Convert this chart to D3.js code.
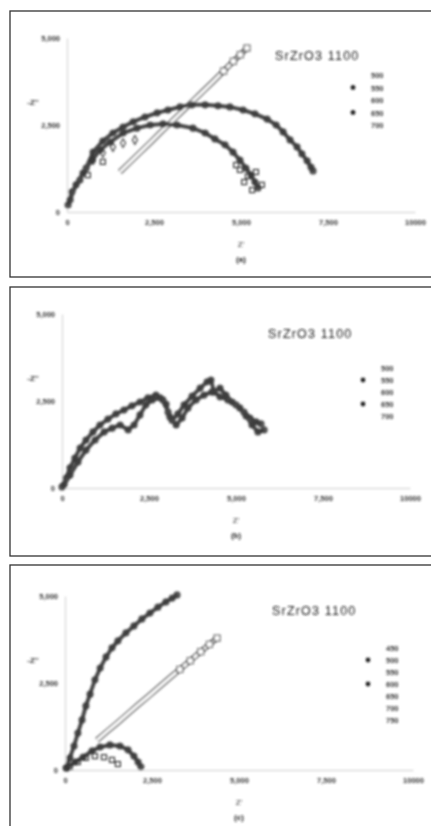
<!DOCTYPE html>
<html>
<head>
<meta charset="utf-8">
<script src="https://cdn.jsdelivr.net/npm/d3@7"></script>
<style>
  body { margin: 0; background: #fff; }
  text { font-family: "Liberation Sans", Arial, sans-serif; }
</style>
</head>
<body>
<div id="chart"></div>
<script>
// axis ticks shared by the three panels
var xTicks = [0, 2500, 5000, 7500, 10000];
var xTickLabels = ["0", "2,500", "5,000", "7,500", "10000"];
var yTicks = [0, 2500, 5000];
var yTickLabels = ["0", "2,500", "5,000"];
var panelTitle = "SrZrO3 1100";
var xLabel = "Z'";
var yLabel = "-Z''";

// legends
var legendA = ["500", "550", "600", "650", "700"];
var legendB = ["500", "550", "600", "650", "700"];
var legendC = ["450", "500", "550", "600", "650", "700", "750"];

// panel (a) series
var a1Re = [30, 140, 370, 550, 750, 1030, 1320, 1610, 1900, 2240, 2590, 2900, 3250, 3590, 3970, 4340, 4680, 5060, 5400, 5750, 6010, 6210, 6410, 6610, 6750, 6900, 7010, 7070];
var a1Im = [200, 580, 920, 1260, 1720, 2040, 2270, 2440, 2590, 2730, 2850, 2930, 3020, 3080, 3080, 3050, 3020, 2930, 2820, 2670, 2500, 2300, 2070, 1870, 1670, 1470, 1290, 1180];
var a2Re = [90, 260, 460, 720, 950, 1240, 1610, 2010, 2390, 2760, 3160, 3620, 3970, 4250, 4540, 4770, 4970, 5140, 5290, 5400, 5490];
var a2Im = [350, 780, 1120, 1490, 1780, 2010, 2270, 2410, 2500, 2530, 2500, 2410, 2270, 2100, 1930, 1720, 1490, 1260, 1060, 860, 690];
var a3Re = [4970, 5200, 5430, 5090, 5600, 5320, 4860, 1030, 600];
var a3Im = [1210, 1030, 1150, 860, 780, 630, 1350, 1440, 1060];
var a4Re = [1520, 1820, 2110, 2400, 2700, 3000, 3300, 3600, 3900, 4200, 4500, 4780, 4980, 5170];
var a4Im = [1150, 1440, 1720, 2000, 2300, 2590, 2880, 3170, 3460, 3750, 4050, 4330, 4520, 4710];
var a5Re = [750, 1030, 1320, 1610, 1950];
var a5Im = [1490, 1700, 1870, 1980, 2070];

// panel (b) series
var b1Re = [0, 120, 230, 370, 520, 690, 890, 1090, 1320, 1550, 1780, 2010, 2240, 2470, 2700, 2900, 3050, 3160, 3330, 3510, 3740, 3970, 4170, 4280, 4370, 4540, 4770, 5000, 5230, 5400, 5580, 5720];
var b1Im = [30, 290, 580, 860, 1150, 1380, 1610, 1810, 1980, 2130, 2240, 2360, 2470, 2590, 2670, 2530, 2180, 1950, 2130, 2390, 2640, 2870, 3050, 3100, 2760, 2620, 2530, 2390, 2180, 2010, 1900, 1840];
var b2Re = [60, 230, 460, 690, 950, 1210, 1440, 1670, 1900, 2070, 2240, 2410, 2590, 2820, 2990, 3100, 3280, 3450, 3620, 3850, 4080, 4310, 4540, 4710, 4890, 5110, 5290, 5460, 5630, 5810];
var b2Im = [90, 370, 750, 1090, 1380, 1610, 1720, 1810, 1670, 1810, 2100, 2390, 2530, 2590, 2410, 2040, 1810, 2010, 2300, 2530, 2670, 2760, 2870, 2670, 2470, 2300, 2070, 1810, 1610, 1670];

// panel (c) series
var c1Re = [30, 140, 260, 370, 490, 600, 720, 860, 1010, 1180, 1350, 1520, 1750, 1980, 2210, 2440, 2670, 2900, 3080, 3220];
var c1Im = [60, 350, 690, 1060, 1440, 1840, 2180, 2590, 2930, 3250, 3510, 3710, 3940, 4140, 4340, 4510, 4680, 4830, 4940, 5030];
var c2Re = [920, 1200, 1500, 1800, 2100, 2400, 2700, 3000, 3300, 3600, 3900, 4150, 4370];
var c2Im = [860, 1100, 1350, 1610, 1870, 2120, 2380, 2640, 2890, 3140, 3400, 3610, 3790];
var c3Re = [60, 290, 520, 780, 1010, 1290, 1580, 1810, 1980, 2100, 2180];
var c3Im = [60, 230, 370, 550, 660, 720, 690, 580, 400, 230, 90];
var c4Re = [140, 370, 600, 860, 1120, 1350, 1520];
var c4Im = [90, 230, 350, 400, 370, 290, 170];

function zip(re, im) {
  return re.map(function(v, i) { return {re: v, im: im[i]}; });
}

var svgWidth = 431;
var svgHeight = 826;

var svg = d3.select("#chart")
  .append("svg")
  .attr("width", svgWidth)
  .attr("height", svgHeight);

// soft blur to match the scanned look
svg.append("defs").append("filter")
  .attr("id", "soft")
  .append("feGaussianBlur")
  .attr("stdDeviation", 0.85);

var panels = [
  {
    box: [10, 11, 440, 266], ox: 67, oy: 212, tag: "(a)", legend: legendA, legendDots: [1, 3],
    lx: 353, ly: 75, lstep: 12.5, tx: 275, ty: 60,
    dots: [zip(a1Re, a1Im), zip(a2Re, a2Im)],
    open: [zip(a3Re, a3Im)],
    diamonds: [zip(a5Re, a5Im)],
    band: zip(a4Re, a4Im), bandSquares: 4
  },
  {
    box: [10, 287, 440, 269], ox: 62, oy: 488, tag: "(b)", legend: legendB, legendDots: [1, 3],
    lx: 363, ly: 368, lstep: 12, tx: 268, ty: 338,
    dots: [zip(b1Re, b1Im), zip(b2Re, b2Im)],
    open: [], diamonds: [], band: null
  },
  {
    box: [10, 565, 440, 280], ox: 65, oy: 770, tag: "(c)", legend: legendC, legendDots: [1, 3],
    lx: 368, ly: 648, lstep: 12, tx: 272, ty: 615,
    dots: [zip(c1Re, c1Im), zip(c3Re, c3Im)],
    open: [zip(c4Re, c4Im)],
    diamonds: [],
    band: zip(c2Re, c2Im), bandSquares: 5
  }
];

panels.forEach(function(p) {
  // panel frame
  svg.append("rect")
    .attr("x", p.box[0]).attr("y", p.box[1])
    .attr("width", p.box[2]).attr("height", p.box[3])
    .attr("fill", "none")
    .attr("stroke", "#333")
    .attr("stroke-width", 1.3);

  var g = svg.append("g").attr("filter", "url(#soft)");

  var xScale = d3.scaleLinear().domain([0, 10000]).range([p.ox, p.ox + 348]);
  var yScale = d3.scaleLinear().domain([0, 5000]).range([p.oy, p.oy - 174]);

  var bottomAxis = d3.axisBottom(xScale)
    .tickValues(xTicks)
    .tickSize(0)
    .tickPadding(8)
    .tickFormat(function(d, i) { return xTickLabels[i]; });
  var leftAxis = d3.axisLeft(yScale)
    .tickValues(yTicks)
    .tickSize(0)
    .tickPadding(7)
    .tickFormat(function(d, i) { return yTickLabels[i]; });

  var xg = g.append("g")
    .attr("transform", `translate(0, ${p.oy})`)
    .call(bottomAxis);
  var yg = g.append("g")
    .attr("transform", `translate(${p.ox}, 0)`)
    .call(leftAxis);
  [xg, yg].forEach(function(ax) {
    ax.select(".domain").attr("stroke", "#dcdcdc").attr("stroke-width", 1.5);
    ax.selectAll("text").attr("fill", "#333").style("font-size", "7.5px").style("font-weight", "bold");
  });

  // axis titles
  g.append("text")
    .attr("x", xScale(5000)).attr("y", p.oy + 35)
    .attr("text-anchor", "middle")
    .style("font-size", "8px").attr("fill", "#333")
    .text(xLabel);
  g.append("text")
    .attr("x", xScale(5000)).attr("y", p.oy + 50)
    .attr("text-anchor", "middle")
    .style("font-size", "8px").style("font-weight", "bold").attr("fill", "#222")
    .text(p.tag);
  g.append("text")
    .attr("x", 33).attr("y", yScale(2500) - 20)
    .attr("text-anchor", "middle")
    .style("font-size", "8px").style("font-weight", "bold").attr("fill", "#333")
    .text(yLabel);

  // title
  g.append("text")
    .attr("x", p.tx).attr("y", p.ty)
    .style("font-size", "12.5px").style("letter-spacing", "1.2px").attr("fill", "#1a1a1a")
    .text(panelTitle);

  // legend
  var leg = g.append("g");
  leg.selectAll("text")
    .data(p.legend)
    .enter()
    .append("text")
    .attr("x", p.lx + 18)
    .attr("y", (d, i) => p.ly + i * p.lstep + 3)
    .style("font-size", "7.5px").style("font-weight", "bold")
    .attr("fill", "#333")
    .text(d => d);
  leg.selectAll("circle")
    .data(p.legendDots)
    .enter()
    .append("circle")
    .attr("cx", p.lx)
    .attr("cy", d => p.ly + d * p.lstep)
    .attr("r", 2.4)
    .attr("fill", "#222");

  var line = d3.line()
    .x(d => xScale(d.re))
    .y(d => yScale(d.im));

  // double-line band of open squares
  if (p.band) {
    g.append("path").datum(p.band)
      .attr("d", line).attr("fill", "none")
      .attr("stroke", "#444").attr("stroke-width", 5.5);
    g.append("path").datum(p.band)
      .attr("d", line).attr("fill", "none")
      .attr("stroke", "#fff").attr("stroke-width", 3);
    g.selectAll(".sq")
      .data(p.band.slice(p.band.length - p.bandSquares))
      .enter()
      .append("rect")
      .attr("x", d => xScale(d.re) - 3)
      .attr("y", d => yScale(d.im) - 3)
      .attr("width", 6).attr("height", 6)
      .attr("fill", "#fff")
      .attr("stroke", "#333").attr("stroke-width", 1);
  }

  // filled marker series
  p.dots.forEach(function(s) {
    g.append("path").datum(s)
      .attr("d", line).attr("fill", "none")
      .attr("stroke", "#4a4a4a").attr("stroke-width", 4);
    g.selectAll(null)
      .data(s)
      .enter()
      .append("circle")
      .attr("cx", d => xScale(d.re))
      .attr("cy", d => yScale(d.im))
      .attr("r", 3.6)
      .attr("fill", "#3a3a3a")
      .attr("opacity", 0.85);
  });

  // open square series
  p.open.forEach(function(s) {
    g.selectAll(null)
      .data(s)
      .enter()
      .append("rect")
      .attr("x", d => xScale(d.re) - 2.5)
      .attr("y", d => yScale(d.im) - 2.5)
      .attr("width", 5).attr("height", 5)
      .attr("fill", "none")
      .attr("stroke", "#333").attr("stroke-width", 1.2);
  });

  // open diamond series
  p.diamonds.forEach(function(s) {
    g.selectAll(null)
      .data(s)
      .enter()
      .append("path")
      .attr("d", d3.symbol().type(d3.symbolDiamond).size(22))
      .attr("transform", d => `translate(${xScale(d.re)}, ${yScale(d.im)})`)
      .attr("fill", "none")
      .attr("stroke", "#333").attr("stroke-width", 1.1);
  });
});
</script>
</body>
</html>
